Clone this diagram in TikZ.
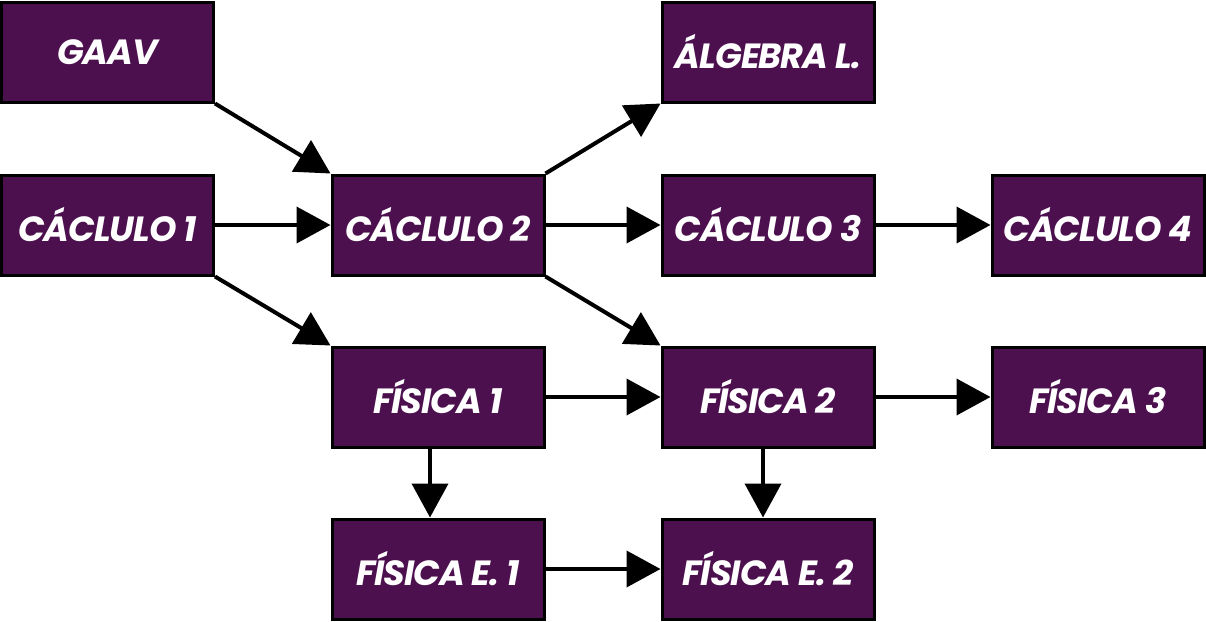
\documentclass[tikz,border=0pt]{standalone}
\usepackage{fontspec}
\setmainfont{Poppins}[LetterSpace=-3.0]
\usetikzlibrary{arrows.meta}
\definecolor{CourseFill}{HTML}{4C104F}
\definecolor{CourseInk}{HTML}{000000}
\tikzset{
  every node/.style={font=\fontsize{35}{38}\selectfont\bfseries\itshape, text=white},
  course/.style={draw=CourseInk, line width=3pt, fill=CourseFill, minimum width=212pt, minimum height=100pt, inner sep=0pt},
  prereq/.style={-{Triangle[length=34pt,width=36pt]}, draw=CourseInk, line width=4pt},
}
\begin{document}
\begin{tikzpicture}[x=1pt,y=-1pt]
  \useasboundingbox (0,0) rectangle (1206,621);
  % Courses
  \node[course] (gaav) at (107.5,52) {GAAV};
  \node[course] (calc1) at (107.5,225) {CÁCLULO 1};
  \node[course] (calc2) at (438,225) {CÁCLULO 2};
  \node[course] (fis1) at (438,397) {FÍSICA 1};
  \node[course] (fise1) at (438,569) {FÍSICA E. 1};
  \node[course] (alg) at (768,52) {ÁLGEBRA L.};
  \node[course] (calc3) at (768,225) {CÁCLULO 3};
  \node[course] (fis2) at (768,397) {FÍSICA 2};
  \node[course] (fise2) at (768,569) {FÍSICA E. 2};
  \node[course] (calc4) at (1098,225) {CÁCLULO 4};
  \node[course] (fis3) at (1098,397) {FÍSICA 3};
  % Prerequisites
  \draw[prereq] (gaav.south east) -- (calc2.north west);
  \draw[prereq] (calc1.east) -- (calc2.west);
  \draw[prereq] (calc1.south east) -- (fis1.north west);
  \draw[prereq] (calc2.north east) -- (alg.south west);
  \draw[prereq] (calc2.east) -- (calc3.west);
  \draw[prereq] (calc2.south east) -- (fis2.north west);
  \draw[prereq] (calc3.east) -- (calc4.west);
  \draw[prereq] (fis1.east) -- (fis2.west);
  \draw[prereq] (fis2.east) -- (fis3.west);
  \draw[prereq] ([xshift=-8pt]fis1.south) -- ([xshift=-8pt]fise1.north);
  \draw[prereq] ([xshift=-5pt]fis2.south) -- ([xshift=-5pt]fise2.north);
  \draw[prereq] (fise1.east) -- (fise2.west);
\end{tikzpicture}
\end{document}
